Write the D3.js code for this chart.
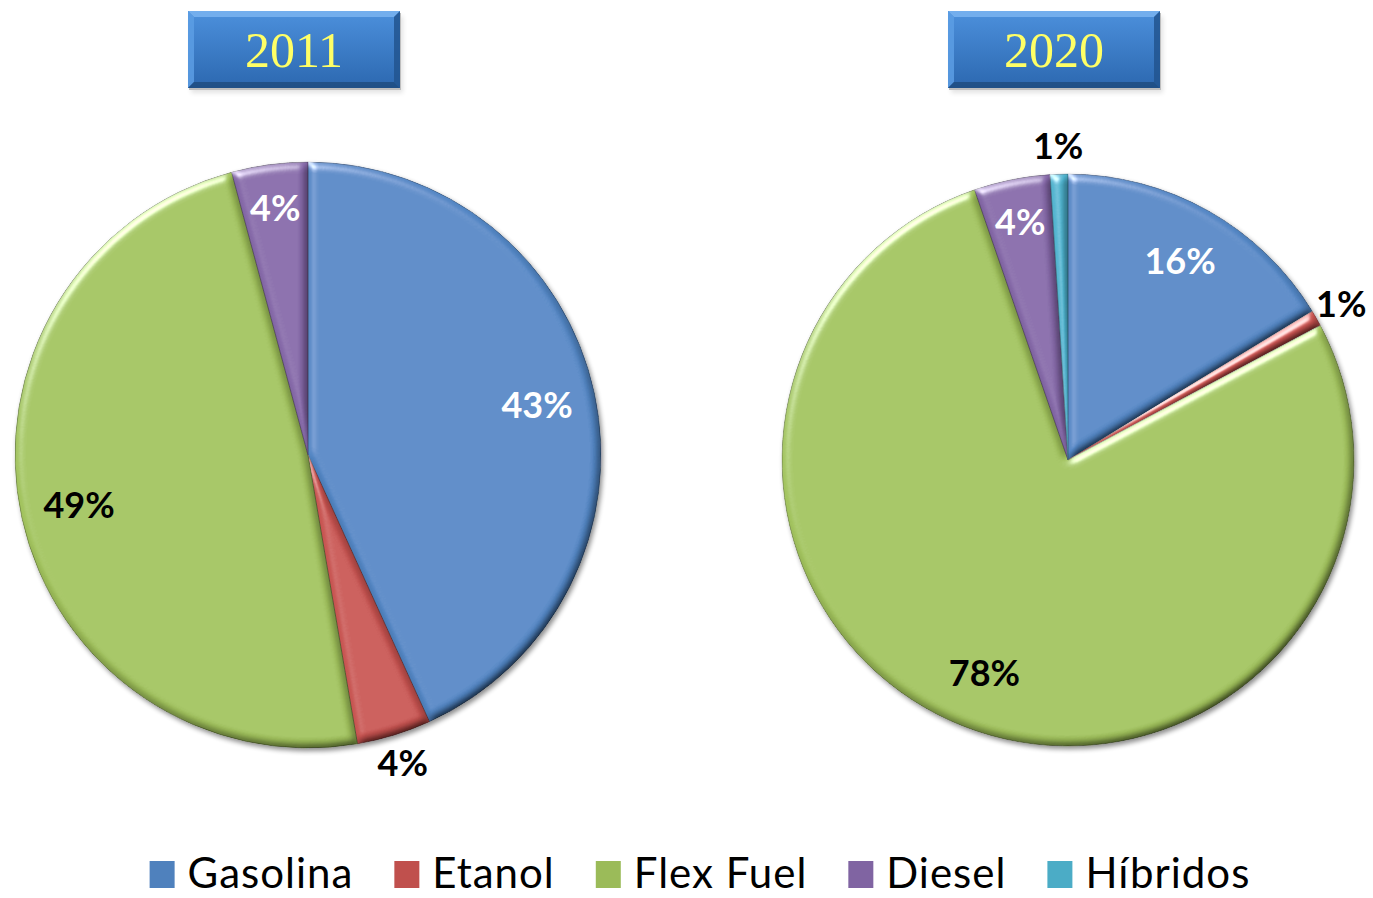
<!DOCTYPE html>
<html>
<head>
<meta charset="utf-8">
<script src="https://cdn.jsdelivr.net/npm/d3@7"></script>
<style>
  html, body { margin: 0; padding: 0; background: #fff; }
  svg { display: block; }
</style>
</head>
<body>
<svg id="chart" width="1373" height="898"></svg>
<script>
// ---------- DATA ----------
const categories = ["Gasolina", "Etanol", "Flex Fuel", "Diesel", "Híbridos"];
const years = ["2011", "2020"];
const values2011 = [43.2, 4.1, 48.5, 4.2, 0];
const values2020 = [16.3, 0.9, 77.5, 4.3, 1.0];
const outsideLabels2011 = ["Etanol"];
const outsideLabels2020 = ["Etanol", "Híbridos"];

// ---------- STYLE ----------
const colors = ["#4F81BD", "#C0504D", "#9BBB59", "#8064A2", "#4BACC6"];
const whiteLabelCats = ["Gasolina", "Diesel"];
const color = d3.scaleOrdinal().domain(categories).range(colors);

const svg = d3.select("#chart");
const defs = svg.append("defs");

// bevel filter
const f = defs.append("filter").attr("id", "bevel")
  .attr("x", "-5%").attr("y", "-5%").attr("width", "110%").attr("height", "110%");
f.append("feGaussianBlur").attr("in", "SourceAlpha").attr("stdDeviation", 4).attr("result", "b");
const spec = f.append("feSpecularLighting").attr("in", "b").attr("surfaceScale", 4)
  .attr("specularConstant", 0.7).attr("specularExponent", 30)
  .attr("lighting-color", "#ffffff").attr("result", "s");
spec.append("feDistantLight").attr("azimuth", 235).attr("elevation", 40);
f.append("feComposite").attr("in", "s").attr("in2", "SourceAlpha").attr("operator", "in").attr("result", "s2");
const diff = f.append("feDiffuseLighting").attr("in", "b").attr("surfaceScale", 5)
  .attr("diffuseConstant", 1.31).attr("lighting-color", "#ffffff").attr("result", "d");
diff.append("feDistantLight").attr("azimuth", 235).attr("elevation", 50);
f.append("feComposite").attr("in", "SourceGraphic").attr("in2", "d").attr("operator", "arithmetic")
  .attr("k1", 1).attr("k2", 0).attr("k3", 0).attr("k4", 0).attr("result", "lit");
f.append("feComposite").attr("in", "lit").attr("in2", "SourceAlpha").attr("operator", "in").attr("result", "lit2");
f.append("feComposite").attr("in", "lit2").attr("in2", "s2").attr("operator", "arithmetic")
  .attr("k1", 0).attr("k2", 1).attr("k3", 1).attr("k4", 0);

// drop shadow
const sh = defs.append("filter").attr("id", "pieShadow")
  .attr("x", "-10%").attr("y", "-10%").attr("width", "120%").attr("height", "120%");
sh.append("feGaussianBlur").attr("in", "SourceAlpha").attr("stdDeviation", 2.5).attr("result", "sb");
sh.append("feOffset").attr("in", "sb").attr("dx", 2).attr("dy", 3).attr("result", "so");
sh.append("feComponentTransfer").attr("in", "so").attr("result", "sa")
  .append("feFuncA").attr("type", "linear").attr("slope", 0.45);
const shm = sh.append("feMerge");
shm.append("feMergeNode").attr("in", "sa");
shm.append("feMergeNode").attr("in", "SourceGraphic");

// title gradient
const tg = defs.append("linearGradient").attr("id", "titleGrad")
  .attr("x1", 0).attr("y1", 0).attr("x2", 0).attr("y2", 1);
tg.append("stop").attr("offset", "0%").attr("stop-color", "#4C90DC");
tg.append("stop").attr("offset", "100%").attr("stop-color", "#2C68B0");

// ---------- PIES ----------
const pies = [
  { year: years[0], values: values2011, cx: 308, cy: 455, r: 293, outside: outsideLabels2011 },
  { year: years[1], values: values2020, cx: 1068, cy: 460, r: 286, outside: outsideLabels2020 }
];

const pie = d3.pie().sort(null).value(d => d.value);

pies.forEach(p => {
  const data = categories.map((c, i) => ({ cat: c, value: p.values[i] })).filter(d => d.value > 0);
  const arcs = pie(data);
  const arc = d3.arc().innerRadius(0).outerRadius(p.r);
  const g = svg.append("g").attr("transform", `translate(${p.cx},${p.cy})`);
  const gs = g.append("g").attr("filter", "url(#pieShadow)");

  gs.selectAll("path.slice").data(arcs).join("path")
    .attr("class", "slice")
    .attr("d", arc)
    .attr("fill", d => d3.color(color(d.data.cat)).brighter(0.1))
    .attr("stroke", d => d3.color(color(d.data.cat)).darker(1.2))
    .attr("stroke-width", 0.8)
    .attr("filter", "url(#bevel)");

  // labels
  g.selectAll("text.lbl").data(arcs).join("text")
    .attr("class", "lbl")
    .attr("transform", d => {
      const mid = (d.startAngle + d.endAngle) / 2;
      const out = p.outside.includes(d.data.cat);
      const lr = p.r * (out ? 1.1 : (d.data.value < 10 ? 0.85 : 0.8));
      return `translate(${lr * Math.sin(mid)},${-lr * Math.cos(mid)})`;
    })
    .attr("text-anchor", "middle")
    .attr("dy", "0.36em")
    .attr("font-family", "Lato, 'Open Sans', sans-serif")
    .attr("font-weight", "bold")
    .attr("font-size", 36)
    .attr("fill", d => (!p.outside.includes(d.data.cat) && whiteLabelCats.includes(d.data.cat)) ? "#ffffff" : "#000000")
    .text(d => Math.round(d.data.value) + "%");

  // title box
  const bw = 212, bh = 77, bx = p.cx - 120, by = 11, bv = 6;
  const tgp = svg.append("g").attr("transform", `translate(${bx},${by})`);
  tgp.append("rect").attr("x", 1).attr("y", 2).attr("width", bw).attr("height", bh)
    .attr("fill", "#000").attr("opacity", 0.25).attr("filter", "url(#pieShadow)");
  tgp.append("rect").attr("width", bw).attr("height", bh).attr("fill", "url(#titleGrad)");
  tgp.append("polygon").attr("points", `0,0 ${bw},0 ${bw - bv},${bv} ${bv},${bv}`).attr("fill", "#7AB4F0").attr("opacity", 0.85);
  tgp.append("polygon").attr("points", `0,0 ${bv},${bv} ${bv},${bh - bv} 0,${bh}`).attr("fill", "#5C9DE4").attr("opacity", 0.85);
  tgp.append("polygon").attr("points", `${bw},0 ${bw},${bh} ${bw - bv},${bh - bv} ${bw - bv},${bv}`).attr("fill", "#22558F").attr("opacity", 0.85);
  tgp.append("polygon").attr("points", `0,${bh} ${bv},${bh - bv} ${bw - bv},${bh - bv} ${bw},${bh}`).attr("fill", "#1E4C80").attr("opacity", 0.85);
  tgp.append("text").attr("x", bw / 2).attr("y", bh / 2).attr("dy", "0.35em")
    .attr("text-anchor", "middle")
    .attr("font-family", "'Liberation Serif', 'DejaVu Serif', serif")
    .attr("font-size", 50)
    .attr("fill", "#FFFF66")
    .text(p.year);
});

// ---------- LEGEND ----------
const legend = svg.append("g");
const items = legend.selectAll("g").data(categories).join("g");
items.append("rect").attr("width", 25).attr("height", 27).attr("y", -27)
  .attr("fill", d => color(d));
items.append("text").attr("x", 38).attr("y", 0)
  .attr("font-family", "Lato, 'Open Sans', sans-serif")
  .attr("font-size", 42)
  .attr("letter-spacing", 1)
  .attr("fill", "#000")
  .text(d => d);
let xPos = 0;
items.each(function () {
  const t = d3.select(this).select("text").node().getComputedTextLength();
  d3.select(this).attr("transform", `translate(${xPos},0)`);
  xPos += 38 + t + 41;
});
const totalW = xPos - 41;
legend.attr("transform", `translate(${700 - totalW / 2},888)`);
</script>
</body>
</html>
